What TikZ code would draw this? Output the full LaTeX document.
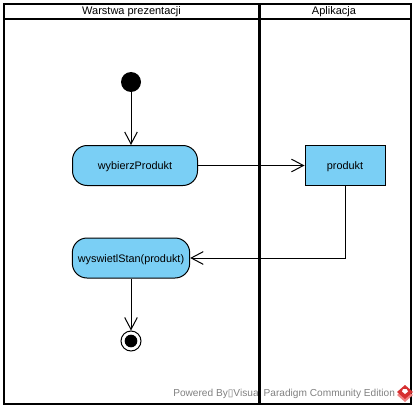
\documentclass[tikz,border=0pt]{standalone}
\usepackage{fontspec}
\setmainfont{Liberation Sans}
\newfontfamily\symbfont{DejaVu Sans}
\usepackage{xcolor}
\usetikzlibrary{arrows.meta}
\definecolor{activityblue}{RGB}{122,207,245}
\definecolor{logored}{RGB}{214,48,49}
\definecolor{logopale}{RGB}{240,130,130}
\tikzset{>={Straight Barb[length=9pt,width=9.5pt,line width=0.75pt]}}
\tikzset{activity/.style={draw, fill=activityblue, rounded corners=11pt, line width=0.75pt, inner sep=0pt, text height=7pt, text depth=1pt, font=\fontsize{8.15}{10}\selectfont}}
\tikzset{objbox/.style={draw, fill=activityblue, line width=0.75pt, inner sep=0pt, text height=7pt, text depth=1pt, font=\fontsize{8.15}{10}\selectfont}}
\tikzset{headtext/.style={inner sep=0pt, font=\fontsize{8.25}{10}\selectfont}}
\tikzset{flow/.style={->, line width=0.75pt}}

\begin{document}
\begin{tikzpicture}[x=0.75pt, y=-0.75pt]
      \useasboundingbox (0,0) rectangle (417,410);
      \coordinate (TL) at (4,4);
      \coordinate (BR) at (411,404);
      \coordinate (HL) at (4,19.5);
      \coordinate (HR) at (411,19.5);
      \coordinate (DT) at (259.5,4);
      \coordinate (DB) at (259.5,404);
      % watermark lies under the lanes
      \node[anchor=west, inner sep=0pt, text=black!50, font=\fontsize{7.6}{10}\selectfont] (power) at (173,393.5) {Powered By{\symbfont ▯}Visual Paradigm Community Edition};
      \draw[line width=1.5pt] (TL) rectangle (BR);
      \draw[line width=1.5pt] (HL) -- (HR);
      \draw[line width=2pt] (DT) -- (DB);
      \node[headtext] (lanea) at (131.5,12) {Warstwa prezentacji};
      \node[headtext] (laneb) at (334,12) {Aplikacja};
      \node[circle, fill=black, minimum size=15pt, inner sep=0pt] (start) at (131,82) {};
      \node[activity, minimum width=93.75pt, minimum height=30pt] (wybierz) at (135,165.5) {wybierzProdukt};
      \node[objbox, minimum width=60pt, minimum height=30pt] (produkt) at (345,165.5) {produkt};
      \node[activity, minimum width=88pt, minimum height=30pt] (wyswietl) at (131,258) {wyswietlStan(produkt)};
      \node[circle, draw, line width=0.75pt, minimum size=15pt, inner sep=0pt] (end) at (131,341) {};
      \node[circle, fill=black, minimum size=9.5pt, inner sep=0pt] (endin) at (end) {};
      \draw[flow] (start) -- (start |- wybierz.north);
      \draw[flow] (wybierz) -- (produkt);
      \draw[flow] (produkt) |- (wyswietl);
      \draw[flow] (wyswietl) -- (end);
      % logo
      \fill[logopale] (405,389) -- (413,395) -- (405,402) -- (397,395) -- cycle;
      \fill[logored] (405,385) -- (413,392) -- (405,399) -- (397,392) -- cycle;
      \fill[white] (403,389) -- (406.5,389) -- (408,391.5) -- (405,394) -- (402,391.5) -- cycle;
\end{tikzpicture}
\end{document}
